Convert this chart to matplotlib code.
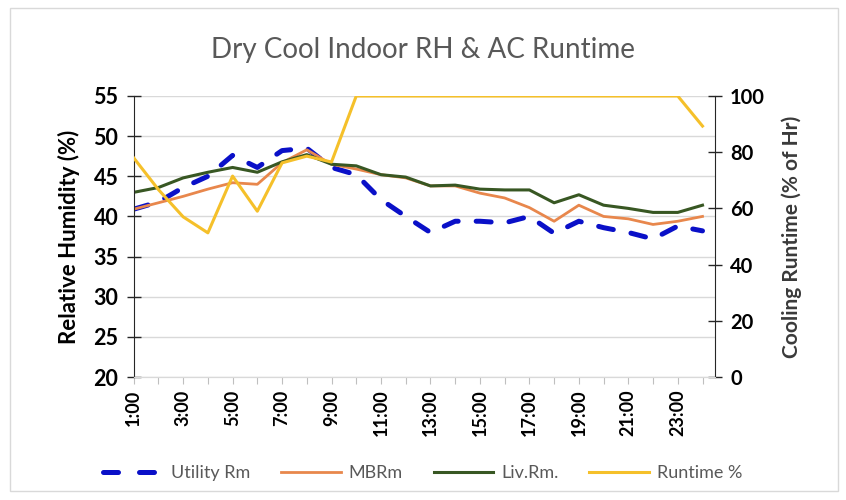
import matplotlib.pyplot as plt
from matplotlib.lines import Line2D
from matplotlib.patches import Rectangle

plt.rcParams['font.family'] = ['Lato', 'DejaVu Sans']

hours = list(range(1, 25))
hour_labels = [f'{h}:00' if h % 2 == 1 else '' for h in hours]

utility_rm = [40.9, 41.8, 43.6, 45.0, 47.6, 46.1, 48.2, 48.5, 46.1, 45.2, 42.1, 40.0,
              38.0, 39.4, 39.4, 39.2, 40.0, 37.9, 39.4, 38.6, 38.0, 37.2, 38.8, 38.2]
mbr_rm = [40.9, 41.7, 42.5, 43.4, 44.2, 44.0, 46.7, 48.3, 46.5, 45.9, 45.2, 44.8,
          43.8, 43.8, 42.9, 42.3, 41.1, 39.4, 41.4, 40.0, 39.7, 39.0, 39.4, 40.0]
liv_rm = [43.0, 43.6, 44.8, 45.5, 46.1, 45.5, 46.8, 47.7, 46.5, 46.3, 45.2, 44.9,
          43.8, 43.9, 43.4, 43.3, 43.3, 41.7, 42.7, 41.4, 41.0, 40.5, 40.5, 41.4]
runtime = [78.0, 66.7, 57.0, 51.3, 71.5, 59.0, 76.2, 78.6, 76.5, 100, 100, 100,
           100, 100, 100, 100, 100, 100, 100, 100, 100, 100, 100, 89.3]

blue = '#0a10c8'
orange = '#e8874c'
green = '#385723'
yellow = '#f5c02a'
gray_txt = '#595959'
dark = '#262626'

fig = plt.figure(figsize=(8.46, 5.0), dpi=100)
ax = fig.add_axes([0.158, 0.246, 0.687, 0.562])
ax2 = ax.twinx()

ax.plot(hours, utility_rm, color=blue, lw=3.6, dashes=(3, 3.6), dash_capstyle='round')
ax.plot(hours, mbr_rm, color=orange, lw=2.0)
ax.plot(hours, liv_rm, color=green, lw=2.2)
ax2.plot(hours, runtime, color=yellow, lw=2.2)

ax.set_xlim(1, 24.5)
ax.set_ylim(20, 55)
ax.set_yticks(range(20, 56, 5))
ax2.set_ylim(0, 100)
ax2.set_yticks(range(0, 101, 20))

ax.grid(axis='y', color='#d9d9d9', lw=1)
ax.set_axisbelow(True)

ax.set_xticks(hours)
ax.set_xticklabels(hour_labels, rotation=90, fontsize=13, fontweight='bold')
ax.tick_params(axis='x', direction='out', length=5, color='#bfbfbf', pad=4)
ax.tick_params(axis='y', direction='inout', length=10, width=1, color=dark,
               labelsize=15.5, pad=6)
ax2.tick_params(axis='y', direction='inout', length=10, width=1, color=dark,
                labelsize=14.5, pad=6)
for lab in ax.get_yticklabels() + ax2.get_yticklabels():
    lab.set_fontweight('bold')

for a in (ax, ax2):
    a.spines['top'].set_visible(False)
    a.spines['bottom'].set_color('#d9d9d9')
    a.spines['left'].set_color(dark)
    a.spines['right'].set_color(dark)
ax.spines['right'].set_visible(False)
ax2.spines['left'].set_visible(False)

ax.set_ylabel('Relative Humidity (%)', fontsize=16, fontweight='bold', labelpad=10)
ax2.set_ylabel('Cooling Runtime (% of Hr)', fontsize=15, fontweight='bold',
               labelpad=12, color='#3a3a3a')

fig.text(0.5, 0.9, 'Dry Cool Indoor RH & AC Runtime', ha='center', va='center',
         fontsize=20, color=gray_txt)

handles = [
    Line2D([], [], color=blue, lw=3.6, dashes=(3, 4.2), dash_capstyle='round'),
    Line2D([], [], color=orange, lw=2.0),
    Line2D([], [], color=green, lw=2.2),
    Line2D([], [], color=yellow, lw=2.2),
]
fig.legend(handles, ['Utility Rm', 'MBRm', 'Liv.Rm.', 'Runtime %'], loc='center',
           bbox_to_anchor=(0.5, 0.054), ncol=4, frameon=False, fontsize=13,
           handlelength=3.3, handletextpad=0.45, columnspacing=1.7,
           labelcolor=gray_txt)

fig.patches.append(Rectangle((0.012, 0.018), 0.978, 0.966, transform=fig.transFigure,
                             fill=False, edgecolor='#d9d9d9', lw=1))

fig.savefig('out.png', dpi=100)
